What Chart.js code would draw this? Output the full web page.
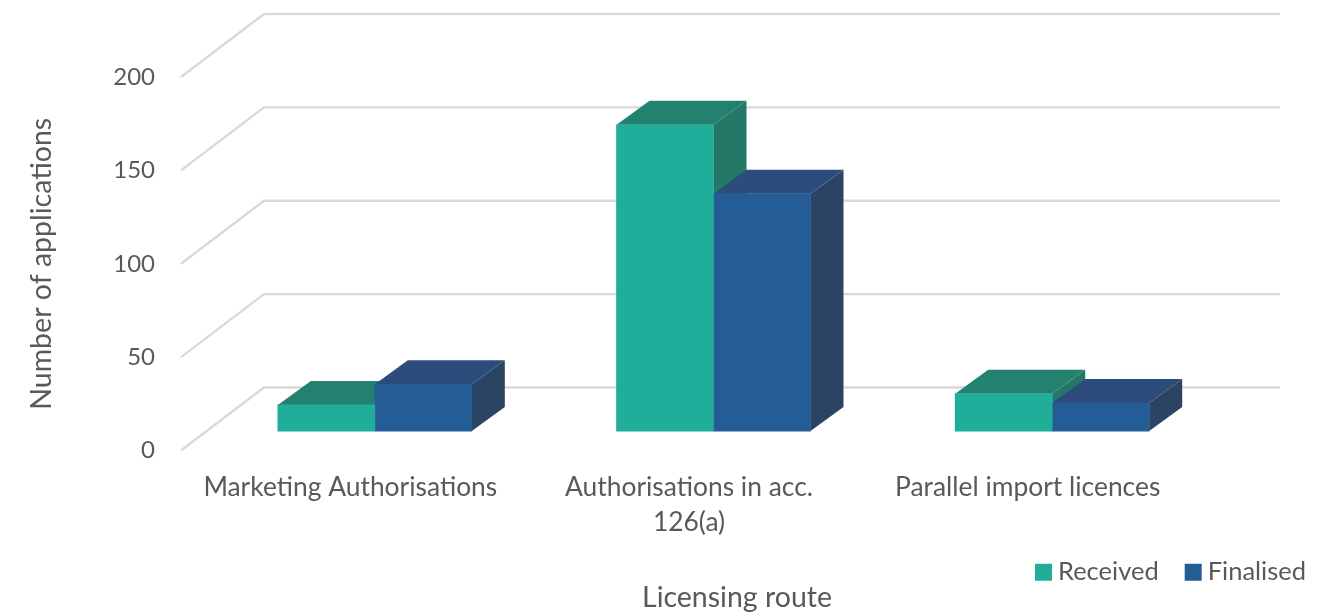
<!DOCTYPE html>
<html>
<head>
<meta charset="utf-8">
<style>html,body{margin:0;padding:0;background:#fff}canvas{display:block}</style>
<script src="https://cdn.jsdelivr.net/npm/chart.js@4"></script>
</head>
<body>
<canvas id="c" width="1334" height="616"></canvas>
<script>
// Licensing applications by route
const categories = ["Marketing Authorisations", ["Authorisations in acc.", "126(a)"], "Parallel import licences"];
const received = [14, 164, 20];
const finalised = [25, 127, 15];
const yTicks = [0, 50, 100, 150, 200];

const GREY = "#595959";
const FONT = "Lato";
const GREEN = { front: "#20AE9A", top: "#23826F", side: "#257868" };
const BLUE = { front: "#245C96", top: "#2C4D7B", side: "#2B4463" };
const faces = [GREEN, BLUE];

// Oblique projection of the floor, and of the bars standing in the middle of it
const FLOOR = { dx: 83, dy: -63 };
const BAR_SHIFT = { dx: 24.5, dy: -19.5 };
const BAR_DEPTH = { dx: 33, dy: -24 };

function poly(ctx, pts, fill) {
  ctx.beginPath();
  pts.forEach((p, i) => (i ? ctx.lineTo(p[0], p[1]) : ctx.moveTo(p[0], p[1])));
  ctx.closePath();
  ctx.fillStyle = fill;
  ctx.fill();
}

const oblique3d = {
  id: "oblique3d",
  afterLayout(chart) {
    // Legend and axis title sit at fixed spots under the plot
    const lg = chart.legend;
    const pad = lg.options.labels.padding;
    const h = lg.height, w = lg.width;
    lg.left = 1041.75 - pad; lg.right = lg.left + w;
    lg.top = 573.5 - pad - 14; lg.bottom = lg.top + h;
    const t = chart.titleBlock;
    const tw = t.right - t.left, th = t.height;
    t.left = 737 - tw / 2; t.right = t.left + tw;
    t.top = 598 - th / 2; t.bottom = t.top + th;
    // Two-line category labels need room below the scale box
    chart.scales.x.bottom = chart.height;
  },
  beforeDatasetsDraw(chart) {
    const ctx = chart.ctx, y = chart.scales.y, a = chart.chartArea;
    // Wall and floor gridlines
    ctx.save();
    ctx.strokeStyle = "#D9D9D9";
    ctx.lineWidth = 2.4;
    ctx.lineJoin = "miter";
    yTicks.forEach(v => {
      const py = y.getPixelForValue(v);
      ctx.beginPath();
      ctx.moveTo(a.left, py);
      ctx.lineTo(a.left + FLOOR.dx, py + FLOOR.dy);
      ctx.lineTo(a.right + FLOOR.dx, py + FLOOR.dy);
      ctx.stroke();
    });
    ctx.restore();

    ctx.save();
    ctx.translate(BAR_SHIFT.dx, BAR_SHIFT.dy);
    // Side and top faces, back to front; the library paints the front faces afterwards
    chart.data.datasets.forEach((ds, di) => {
      chart.getDatasetMeta(di).data.forEach(bar => {
        const { x, y: top, base, width } = bar.getProps(["x", "y", "base", "width"], true);
        const r = x + width / 2, l = x - width / 2;
        const d = BAR_DEPTH;
        poly(ctx, [[r, top], [r + d.dx, top + d.dy], [r + d.dx, base + d.dy], [r, base]], faces[di].side);
        poly(ctx, [[l, top], [l + d.dx, top + d.dy], [r + d.dx, top + d.dy], [r, top]], faces[di].top);
      });
    });
  },
  afterDatasetsDraw(chart) {
    chart.ctx.restore();
  }
};

new Chart(document.getElementById("c"), {
  type: "bar",
  data: {
    labels: categories,
    datasets: [
      { label: "Received", data: received, backgroundColor: GREEN.front, borderWidth: 0, barThickness: 97, clip: false },
      { label: "Finalised", data: finalised, backgroundColor: BLUE.front, borderWidth: 0, barThickness: 97, clip: false }
    ]
  },
  options: {
    responsive: false,
    animation: false,
    layout: { padding: { left: 0, top: 77, right: 137, bottom: 0 } },
    plugins: {
      tooltip: { enabled: false },
      title: {
        display: true,
        text: "Licensing route",
        position: "bottom",
        color: GREY,
        padding: 0,
        font: { family: FONT, size: 28.5, weight: "normal", lineHeight: 1.2 }
      },
      legend: {
        position: "bottom",
        align: "start",
        labels: {
          color: GREY,
          padding: 32.75,
          boxWidth: 3.5,
          boxHeight: 3.5,
          font: { family: FONT, size: 25.5 },
          generateLabels: chart => chart.data.datasets.map((ds, i) => ({
            text: ds.label,
            fillStyle: ds.backgroundColor,
            strokeStyle: ds.backgroundColor,
            lineWidth: 13.5,
            fontColor: GREY,
            datasetIndex: i
          }))
        }
      }
    },
    scales: {
      x: {
        grid: { display: false, drawTicks: false },
        border: { display: false },
        ticks: {
          color: GREY,
          padding: 19,
          maxRotation: 0,
          autoSkip: false,
          font: { family: FONT, size: 26.4, lineHeight: 1.33 }
        },
        afterFit: s => { s.height = 63; }
      },
      y: {
        min: 0,
        max: 200,
        grid: { display: false, drawTicks: false },
        border: { display: false },
        afterBuildTicks: s => { s.ticks = yTicks.map(v => ({ value: v })); },
        ticks: {
          color: GREY,
          padding: 26,
          font: { family: FONT, size: 24 }
        },
        title: {
          display: true,
          text: "Number of applications",
          color: GREY,
          padding: { top: 25, bottom: 0 },
          font: { family: FONT, size: 28.5, lineHeight: 1.2 }
        },
        afterFit: s => { s.width = 181; }
      }
    }
  },
  plugins: [oblique3d]
});
</script>
</body>
</html>
